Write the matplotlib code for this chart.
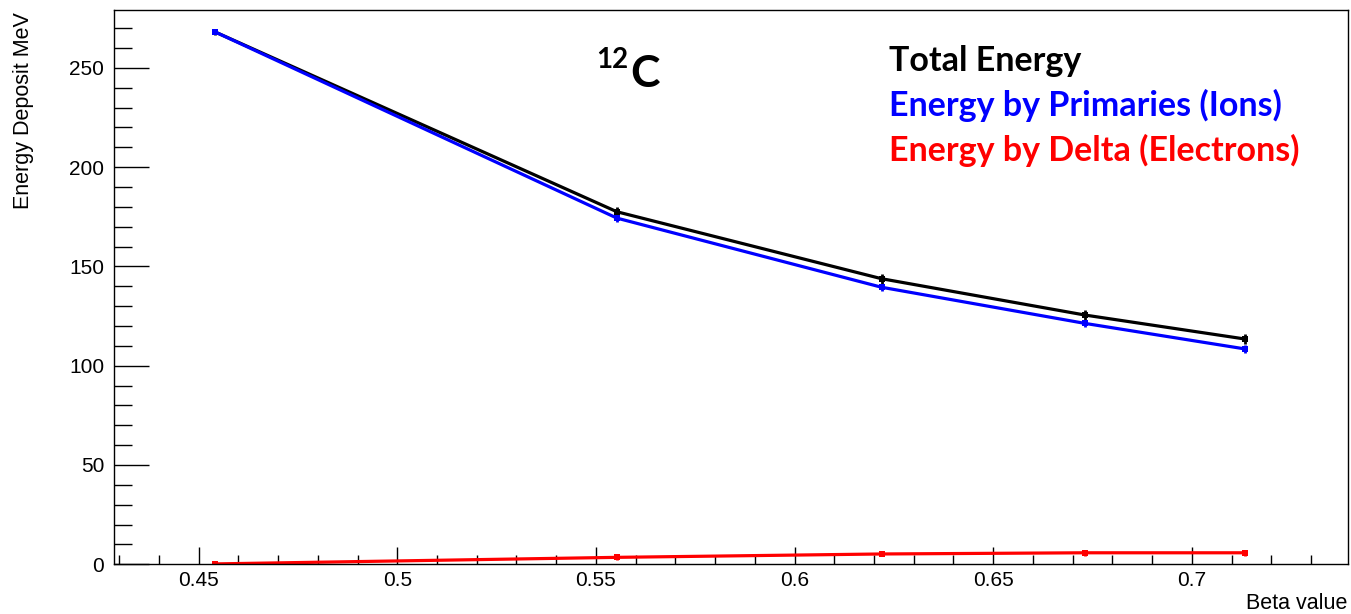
import matplotlib
matplotlib.use("Agg")
import matplotlib.pyplot as plt
from matplotlib.ticker import MultipleLocator, FuncFormatter

# ---- data ----
beta = [0.4542, 0.5553, 0.6219, 0.6731, 0.7135]
total_energy = [268.0, 177.5, 143.8, 125.5, 113.4]
total_err = [1.5, 2.5, 2.5, 2.5, 2.5]
primary_energy = [268.0, 174.3, 139.5, 121.3, 108.4]
primary_err = [1.2, 1.8, 1.8, 1.8, 1.8]
delta_energy = [0.2, 3.5, 5.2, 5.8, 5.8]
delta_err = [0.5, 1.5, 1.2, 1.5, 1.5]

xlabel = "Beta value"
ylabel = "Energy Deposit MeV"
legend_lines = ["Total Energy", "Energy by Primaries (Ions)", "Energy by Delta (Electrons)"]

W, H = 1351, 614
fig = plt.figure(figsize=(W / 100, H / 100), dpi=100)
left, right, top, bottom = 114, 1348, 10, 564.3
ax = fig.add_axes([left / W, 1 - bottom / H, (right - left) / W, (bottom - top) / H])

ax.set_xlim(0.4287, 0.7393)
ax.set_ylim(0, 279.1)

def draw(y, e, color):
    ax.errorbar(beta, y, yerr=e, color=color, lw=2.3, elinewidth=2.0,
                capsize=3, capthick=2.0, marker='s', markersize=4,
                markeredgewidth=0)

draw(total_energy, total_err, "black")
draw(primary_energy, primary_err, "#0000ff")
draw(delta_energy, delta_err, "#ff0000")

ax.xaxis.set_major_locator(MultipleLocator(0.05))
ax.xaxis.set_minor_locator(MultipleLocator(0.01))
ax.yaxis.set_major_locator(MultipleLocator(50))
ax.yaxis.set_minor_locator(MultipleLocator(10))
ax.xaxis.set_major_formatter(FuncFormatter(lambda v, p: ("%.2f" % v).rstrip("0").rstrip(".")))
ax.tick_params(axis="x", which="major", direction="in", length=12.2, width=1, pad=4.5,
               top=False, labelsize=15)
ax.tick_params(axis="x", which="minor", direction="in", length=6.3, width=1, top=False)
ax.tick_params(axis="y", which="major", direction="in", length=25.2, width=1, pad=7,
               right=False, labelsize=15)
ax.tick_params(axis="y", which="minor", direction="in", length=13, width=1, right=False)
for lab in ax.get_xticklabels() + ax.get_yticklabels():
    lab.set_fontfamily("Liberation Sans")
for s in ax.spines.values():
    s.set_linewidth(1.0)
    s.set_color("black")

def fx(px):
    return px / W

def fy(py):
    return 1 - py / H

fig.text(fx(24), fy(12), ylabel, rotation=90, ha="center", va="top",
         family="Liberation Sans", fontsize=15.5)
fig.text(fx(1347), fy(609), xlabel, ha="right", va="baseline",
         family="Liberation Sans", fontsize=15.5)

# annotations
fig.text(fx(596), fy(68), "12", ha="left", va="baseline", family="Lato",
         fontweight="bold", fontsize=20)
fig.text(fx(630), fy(87), "C", ha="left", va="baseline", family="Lato",
         fontweight="bold", fontsize=32)
colors = ["black", "#0000ff", "#ff0000"]
baselines = [70.7, 116, 160.7]
for txt, c, b in zip(legend_lines, colors, baselines):
    fig.text(fx(889), fy(b), txt, ha="left", va="baseline", family="Lato",
             fontweight="bold", fontsize=24.5, color=c)

fig.savefig("out.png", dpi=100)
